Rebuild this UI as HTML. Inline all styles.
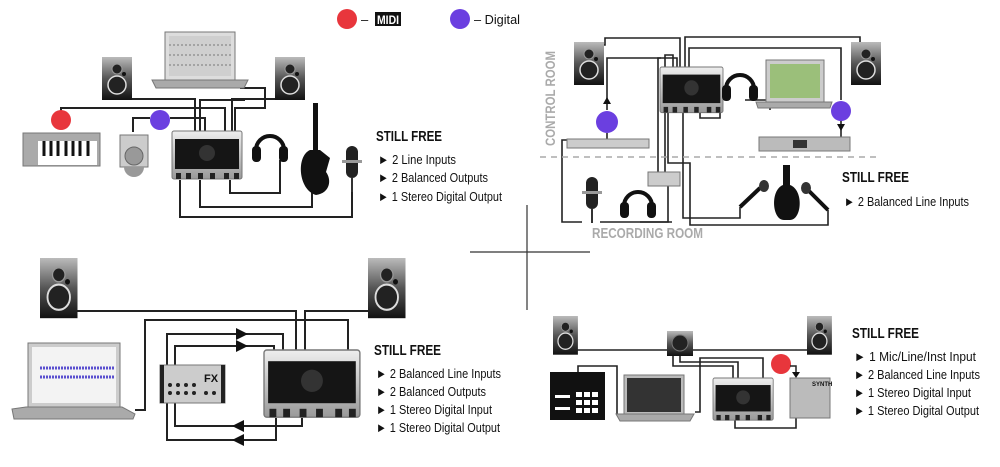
<!DOCTYPE html>
<html><head><meta charset="utf-8"><style>
html,body{margin:0;padding:0;background:#fff;width:1000px;height:467px;overflow:hidden}
svg{display:block}
text{font-family:"Liberation Sans",sans-serif;fill:#111}
.h{font-weight:bold;font-size:15px}
.b{font-size:13px}
</style></head><body>
<svg width="1000" height="467" viewBox="0 0 1000 467" xmlns="http://www.w3.org/2000/svg">
<defs>
<linearGradient id="spk" x1="0" y1="0" x2="0" y2="1"><stop offset="0" stop-color="#bbb"/><stop offset="0.5" stop-color="#555"/><stop offset="1" stop-color="#111"/></linearGradient>
<linearGradient id="sil" x1="0" y1="0" x2="0" y2="1"><stop offset="0" stop-color="#eee"/><stop offset="1" stop-color="#999"/></linearGradient>
<g id="speaker"><rect x="0" y="0" width="30" height="43" fill="url(#spk)"/><circle cx="15" cy="12" r="5" fill="#222" stroke="#999"/><circle cx="15" cy="28" r="9" fill="#222" stroke="#ddd" stroke-width="1.5"/><circle cx="22" cy="17" r="2" fill="#111"/></g>
<g id="iface"><rect x="0" y="0" width="70" height="48" rx="2" fill="url(#sil)" stroke="#777"/><rect x="3" y="8" width="64" height="30" fill="#151515"/><circle cx="35" cy="22" r="8" fill="#333"/><rect x="4" y="42" width="5" height="6" fill="#222"/><rect x="14" y="42" width="5" height="6" fill="#222"/><rect x="26" y="42" width="5" height="6" fill="#222"/><rect x="38" y="42" width="5" height="6" fill="#222"/><rect x="52" y="42" width="5" height="6" fill="#222"/><rect x="62" y="42" width="5" height="6" fill="#222"/></g>
<g id="hp"><path d="M4 22 A14 14 0 0 1 32 22" fill="none" stroke="#111" stroke-width="4"/><rect x="0" y="18" width="9" height="16" rx="4" fill="#111"/><rect x="27" y="18" width="9" height="16" rx="4" fill="#111"/></g>
<g id="mic"><rect x="4" y="0" width="12" height="32" rx="6" fill="#222"/><rect x="0" y="14" width="20" height="3" fill="#999"/><rect x="9" y="32" width="2" height="14" fill="#333"/></g>
</defs>

<!-- legend -->
<circle cx="347" cy="19" r="10" fill="#e8363c"/>
<text x="361" y="24" class="b">–</text>
<rect x="375" y="12" width="26" height="14" fill="#111"/>
<text x="377" y="24" style="fill:#fff;font-weight:bold;font-size:12px" textLength="22" lengthAdjust="spacingAndGlyphs">MIDI</text>
<circle cx="460" cy="19" r="10" fill="#6b3fe0"/>
<text x="474" y="24" class="b" textLength="46" lengthAdjust="spacingAndGlyphs">– Digital</text>

<!-- TOP LEFT -->
<g fill="none" stroke="#222" stroke-width="2">
<path d="M131 99 H195 V131"/>
<path d="M61 112 V108 H225 V131"/>
<path d="M200 131 V100 H245"/>
<path d="M240 88 H265 V108 H235 V131"/>
<path d="M133 132 V118 H150 M170 118 H205 V131"/>
<path d="M275 99 H232 V131"/>
<path d="M230 180 V193 H280 V160"/>
<path d="M200 180 V207 H312 V190"/>
<path d="M180 180 V217 H352 V190"/>
</g>
<use href="#speaker" x="102" y="57"/><use href="#speaker" x="275" y="57"/>
<rect x="165" y="32" width="70" height="48" fill="#ddd" stroke="#777"/>
<rect x="169" y="36" width="62" height="40" fill="#cfcfcf"/>
<path d="M169 45 H231 M169 55 H231 M169 65 H231" stroke="#777" stroke-dasharray="2 2"/>
<path d="M152 80 H248 L244 88 H156 Z" fill="#aaa" stroke="#777"/>
<rect x="23" y="133" width="77" height="33" fill="#aaa" stroke="#777"/>
<rect x="38" y="141" width="59" height="24" fill="#fff"/>
<path d="M44 141 V156 M51 141 V156 M58 141 V156 M66 141 V156 M73 141 V156 M80 141 V156 M88 141 V156" stroke="#111" stroke-width="3"/>
<circle cx="61" cy="120" r="10" fill="#e8363c"/>
<rect x="120" y="135" width="28" height="32" fill="#ccc" stroke="#777"/>
<circle cx="134" cy="156" r="9" fill="#999" stroke="#666"/>
<path d="M124 167 A10 10 0 0 0 144 167 Z" fill="#999"/>
<circle cx="160" cy="120" r="10" fill="#6b3fe0"/>
<use href="#iface" x="172" y="131"/>
<use href="#hp" x="252" y="128"/>
<rect x="313" y="103" width="5" height="50" fill="#111"/>
<path d="M310 150 C296 156 298 190 316 195 C330 193 332 180 326 172 L330 158 L320 150 Z" fill="#111"/>
<use href="#mic" x="342" y="146"/>
<text x="376" y="141" class="h" textLength="66" lengthAdjust="spacingAndGlyphs">STILL FREE</text>
<text x="378" y="164" class="b" textLength="78" lengthAdjust="spacingAndGlyphs">► 2 Line Inputs</text>
<text x="378" y="182" class="b" textLength="110" lengthAdjust="spacingAndGlyphs">► 2 Balanced Outputs</text>
<text x="378" y="201" class="b" textLength="124" lengthAdjust="spacingAndGlyphs">► 1 Stereo Digital Output</text>

<!-- cross -->
<path d="M470 252 H590 M527 205 V310" stroke="#333" stroke-width="1.2"/>

<!-- TOP RIGHT -->
<g fill="none" stroke="#222" stroke-width="1.6">
<path d="M600 45 H605 V38 H680 V67"/>
<path d="M685 67 V37 H860 V42"/>
<path d="M689 67 V48 H841 V100"/>
<path d="M673 67 V55 H665 V172"/>
<path d="M677 67 V58 H658 V172"/>
<path d="M607 110 V58 H661"/>
<path d="M607 133 V148"/>
<path d="M700 112 V118 H720 V90"/>
<path d="M745 100 H770 V110"/>
<path d="M841 118 V137"/>
<path d="M567 140 H562 V222 H582"/>
<path d="M600 222 H668 V186"/>
<path d="M640 222 H672"/>
<path d="M683 112 V218 H740 V207"/>
<path d="M668 112 V163 H690 V225 H828 V210"/>
</g>
<path d="M603 104 H611 L607 97 Z M837 124 H845 L841 131 Z" fill="#111"/>
<use href="#speaker" x="574" y="42"/>
<use href="#speaker" x="851" y="42"/>
<use href="#iface" x="660" y="67" transform="translate(660 67) scale(0.9 0.95) translate(-660 -67)"/>
<use href="#hp" x="722" y="67"/>
<rect x="766" y="60" width="58" height="42" fill="#ccc" stroke="#777"/>
<rect x="770" y="64" width="50" height="34" fill="#9bbf7a"/>
<path d="M756 102 H832 L830 108 H758 Z" fill="#aaa" stroke="#777"/>
<circle cx="607" cy="122" r="11" fill="#6b3fe0"/>
<circle cx="841" cy="111" r="10" fill="#6b3fe0"/>
<rect x="567" y="139" width="82" height="9" fill="#ccc" stroke="#777"/>
<rect x="759" y="137" width="91" height="14" fill="#bbb" stroke="#777"/>
<rect x="793" y="140" width="14" height="8" fill="#333"/>
<text transform="translate(555 146) rotate(-90)" style="font-size:14px;font-weight:bold;fill:#aaa" textLength="95" lengthAdjust="spacingAndGlyphs">CONTROL ROOM</text>
<path d="M540 157 H880" stroke="#aaa" stroke-width="1.5" stroke-dasharray="6 5"/>
<rect x="648" y="172" width="32" height="14" fill="#ccc" stroke="#777"/>
<use href="#mic" x="582" y="177"/>
<use href="#hp" x="620" y="184"/>
<path d="M740 207 L760 188" stroke="#111" stroke-width="4"/><ellipse cx="764" cy="186" rx="5" ry="6" fill="#333"/>
<path d="M828 210 L808 190" stroke="#111" stroke-width="4"/><ellipse cx="806" cy="188" rx="5" ry="6" fill="#333"/>
<path d="M783 165 V185 C770 190 772 220 784 220 H790 C802 220 804 190 790 185 V165 Z" fill="#111"/>
<text x="592" y="238" style="font-size:15px;font-weight:bold;fill:#aaa" textLength="111" lengthAdjust="spacingAndGlyphs">RECORDING ROOM</text>
<text x="842" y="182" class="h" textLength="67" lengthAdjust="spacingAndGlyphs">STILL FREE</text>
<text x="844" y="206" class="b" textLength="125" lengthAdjust="spacingAndGlyphs">► 2 Balanced Line Inputs</text>

<!-- BOTTOM LEFT -->
<g fill="none" stroke="#222" stroke-width="2">
<path d="M77 311 H296 V350"/>
<path d="M370 311 H305 V350"/>
<path d="M135 410 H145 V320 H348 V350"/>
<path d="M283 350 V334 H167 V365"/>
<path d="M274 350 V346 H175 V365"/>
<path d="M175 402 V426 H302 V418"/>
<path d="M167 402 V440 H276 V418"/>
</g>
<path d="M236 328 L248 334 L236 340 Z M236 340 L248 346 L236 352 Z M232 426 L244 420 L244 432 Z M232 440 L244 434 L244 446 Z" fill="#111"/>
<use href="#speaker" x="40" y="258" transform="translate(40 258) scale(1.25 1.4) translate(-40 -258)"/>
<use href="#speaker" x="368" y="258" transform="translate(368 258) scale(1.25 1.4) translate(-368 -258)"/>
<rect x="28" y="343" width="92" height="64" fill="#ccc" stroke="#777"/>
<rect x="32" y="347" width="84" height="56" fill="#f3f3f3"/>
<path d="M40 368 H114 M40 377 H114" stroke="#5a4fcf" stroke-width="3" stroke-dasharray="2 1"/>
<path d="M12 409 L26 407 H122 L135 414 L133 419 H14 Z" fill="#aaa" stroke="#777"/>
<rect x="160" y="365" width="65" height="38" fill="#ccc" stroke="#777"/>
<rect x="160" y="365" width="4" height="38" fill="#222"/><rect x="221" y="365" width="4" height="38" fill="#222"/>
<text x="204" y="382" style="font-weight:bold;font-size:11px">FX</text>
<g fill="#222"><circle cx="170" cy="385" r="2"/><circle cx="178" cy="385" r="2"/><circle cx="186" cy="385" r="2"/><circle cx="194" cy="385" r="2"/><circle cx="170" cy="393" r="2"/><circle cx="178" cy="393" r="2"/><circle cx="186" cy="393" r="2"/><circle cx="194" cy="393" r="2"/><circle cx="206" cy="393" r="2"/><circle cx="214" cy="393" r="2"/></g>
<use href="#iface" x="264" y="350" transform="translate(264 350) scale(1.37 1.4) translate(-264 -350)"/>
<text x="374" y="355" class="h" textLength="67" lengthAdjust="spacingAndGlyphs">STILL FREE</text>
<text x="376" y="378" class="b" textLength="125" lengthAdjust="spacingAndGlyphs">► 2 Balanced Line Inputs</text>
<text x="376" y="396" class="b" textLength="110" lengthAdjust="spacingAndGlyphs">► 2 Balanced Outputs</text>
<text x="376" y="414" class="b" textLength="116" lengthAdjust="spacingAndGlyphs">► 1 Stereo Digital Input</text>
<text x="376" y="432" class="b" textLength="124" lengthAdjust="spacingAndGlyphs">► 1 Stereo Digital Output</text>

<!-- BOTTOM RIGHT -->
<g fill="none" stroke="#222" stroke-width="1.6">
<path d="M577 350 H808"/>
<path d="M673 355 V366 H733 V378"/>
<path d="M680 355 V362 H738 V378"/>
<path d="M578 378 V366 H617 V415"/>
<path d="M695 412 H700 V358 H763 V378"/>
<path d="M735 420 V428 H796 V417"/>
</g>
<use href="#speaker" x="553" y="316" transform="translate(553 316) scale(0.83 0.9) translate(-553 -316)"/>
<use href="#speaker" x="807" y="316" transform="translate(807 316) scale(0.83 0.9) translate(-807 -316)"/>
<rect x="667" y="331" width="26" height="25" fill="url(#spk)"/><circle cx="680" cy="343" r="8" fill="#222" stroke="#777"/>
<rect x="550" y="372" width="55" height="48" fill="#111"/>
<g fill="#fff"><rect x="576" y="392" width="6" height="5"/><rect x="584" y="392" width="6" height="5"/><rect x="592" y="392" width="6" height="5"/><rect x="576" y="400" width="6" height="5"/><rect x="584" y="400" width="6" height="5"/><rect x="592" y="400" width="6" height="5"/><rect x="576" y="408" width="6" height="5"/><rect x="584" y="408" width="6" height="5"/><rect x="592" y="408" width="6" height="5"/><rect x="555" y="395" width="15" height="3"/><rect x="555" y="407" width="15" height="3"/></g>
<rect x="624" y="375" width="60" height="40" fill="#bbb" stroke="#777"/>
<rect x="627" y="378" width="54" height="34" fill="#333"/>
<path d="M616 414 H694 L690 421 H620 Z" fill="#aaa" stroke="#777"/>
<use href="#iface" x="713" y="378" transform="translate(713 378) scale(0.86 0.88) translate(-713 -378)"/>
<circle cx="781" cy="364" r="10" fill="#e8363c"/>
<path d="M790 366 H796 V372" fill="none" stroke="#222" stroke-width="1.5"/><path d="M792 372 H800 L796 378 Z" fill="#111"/>
<rect x="790" y="378" width="40" height="40" fill="#bbb" stroke="#777"/>
<text x="812" y="386" style="font-size:6px;font-weight:bold">SYNTH</text>
<text x="852" y="338" class="h" textLength="67" lengthAdjust="spacingAndGlyphs">STILL FREE</text>
<text x="854" y="361" class="b" textLength="122" lengthAdjust="spacingAndGlyphs">► 1 Mic/Line/Inst Input</text>
<text x="854" y="379" class="b" textLength="126" lengthAdjust="spacingAndGlyphs">► 2 Balanced Line Inputs</text>
<text x="854" y="397" class="b" textLength="117" lengthAdjust="spacingAndGlyphs">► 1 Stereo Digital Input</text>
<text x="854" y="415" class="b" textLength="125" lengthAdjust="spacingAndGlyphs">► 1 Stereo Digital Output</text>
</svg>
</body></html>
